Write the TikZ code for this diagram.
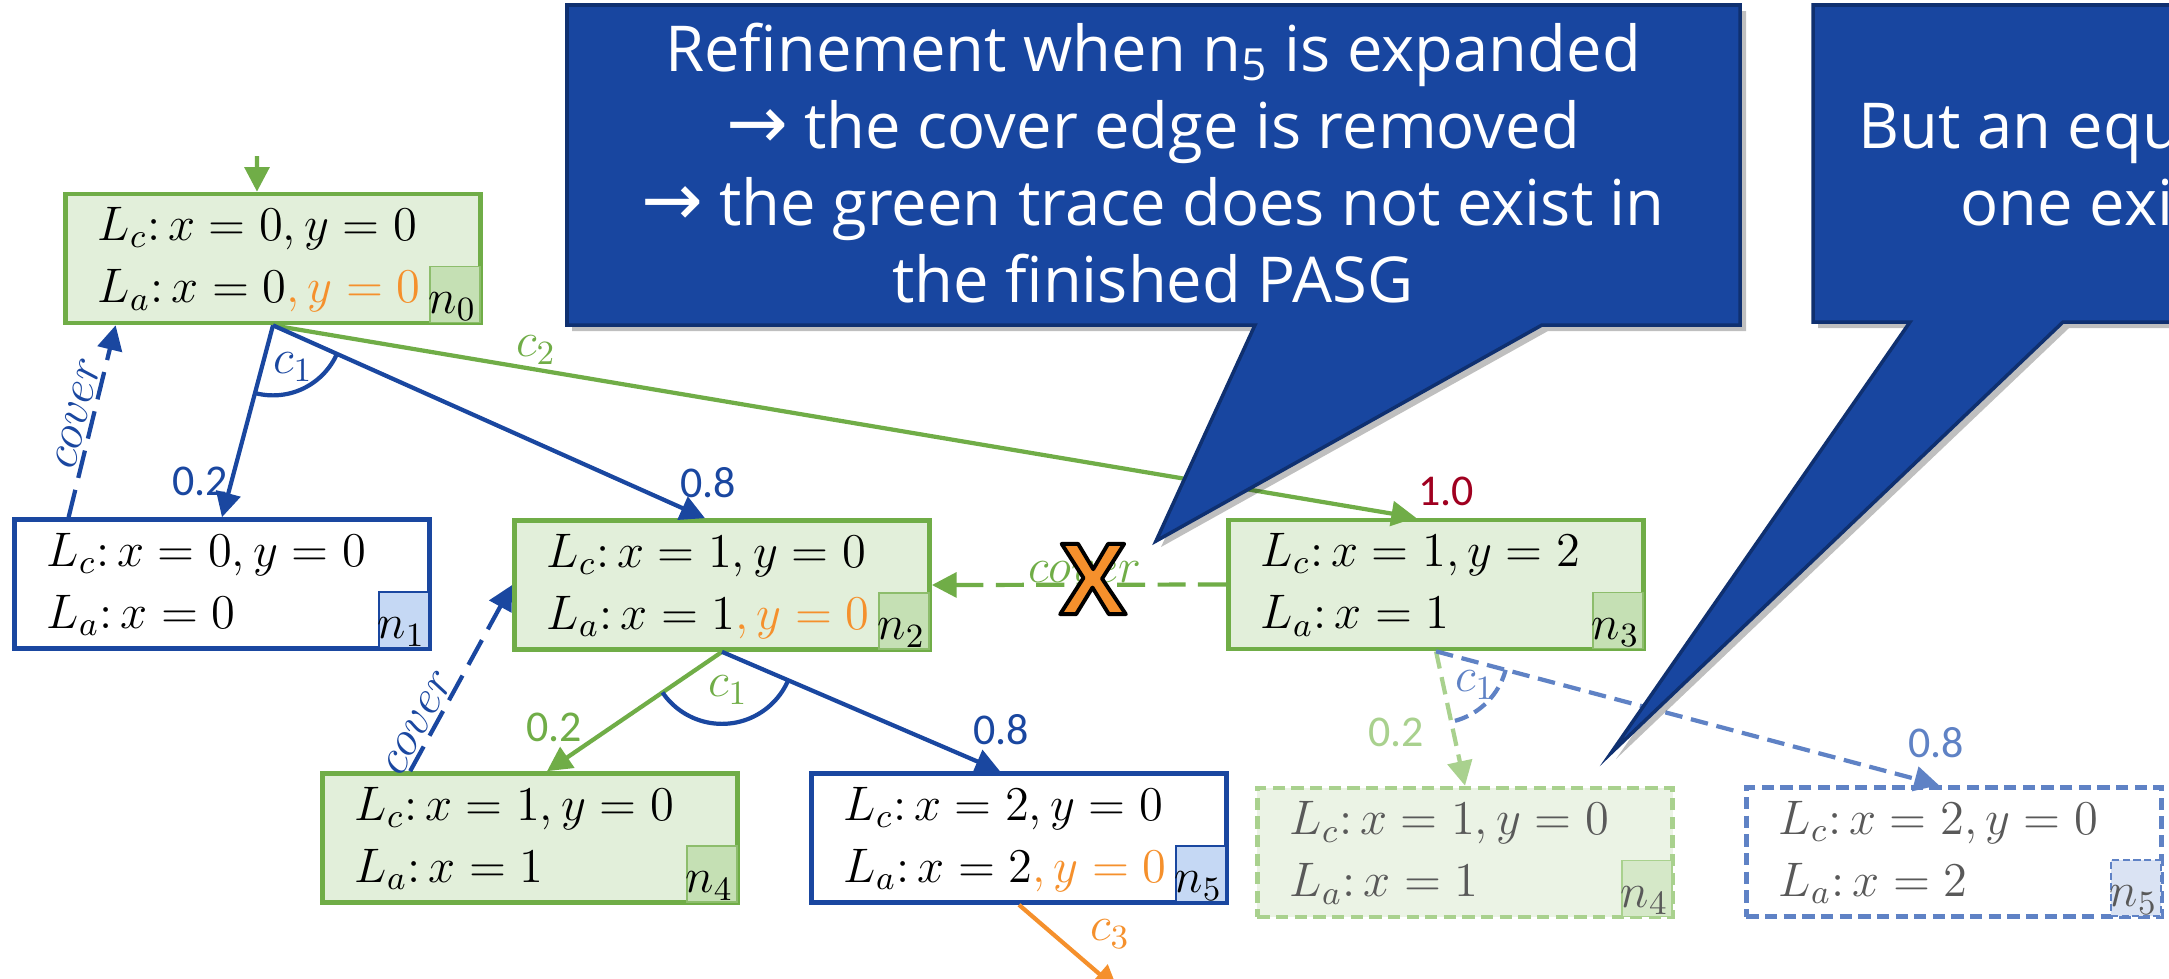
\RequirePackage{fix-cm}
\documentclass[tikz,border=0pt]{standalone}
\usepackage{fontspec}
\newfontfamily\osans{Open Sans}
\newfontfamily\carl{Carlito}
\newfontfamily\dvs{DejaVu Sans}
\usetikzlibrary{arrows.meta}
\definecolor{bl}{HTML}{1A47A0}
\definecolor{grn}{HTML}{70AD47}
\definecolor{grnfill}{HTML}{E2EFDA}
\definecolor{grnlab}{HTML}{C5E0B4}
\definecolor{bllab}{HTML}{C5D8F4}
\definecolor{orng}{HTML}{F5902C}
\definecolor{dred}{HTML}{A00020}
\definecolor{ggrn}{HTML}{A9D18E}
\definecolor{ggrnfill}{HTML}{EBF3E5}
\definecolor{ggrnlab}{HTML}{D5E8C8}
\definecolor{gbl}{HTML}{5F82C5}
\definecolor{gbllab}{HTML}{DAE3F3}
\definecolor{gtxt}{HTML}{595959}
\definecolor{cfill}{HTML}{1846A0}
\definecolor{cline}{HTML}{0F3070}
\newcommand\mymath{\fontsize{13.8}{16}\selectfont}
\newcommand\numfont{\carl\fontsize{12.5}{14}\selectfont}
\newcommand\callfont{\osans\fontsize{18}{22}\selectfont}
\newcommand\callarrow{{\dvs\fontsize{21}{22}\selectfont →}}
\newcommand\boxtexts[4]{%
  \node[txt,#4] (#1a) at ([xshift=0.34cm,yshift=-0.49cm]#1.north west) {#2};
  \node[txt,#4] (#1b) at ([xshift=0.34cm,yshift=-1.11cm]#1.north west) {#3};
}
\tikzset{
  tip/.style={-{Triangle[length=7pt,width=7pt]}},
  edge/.style={line width=1.2pt, tip},
  coveredge/.style={line width=1.2pt, tip, dash pattern=on 8pt off 3.5pt},
  ghostedge/.style={line width=1.2pt, tip, dash pattern=on 5pt off 2.5pt},
  box/.style={draw, line width=1.3pt, minimum width=4.15cm, minimum height=1.29cm, inner sep=0pt},
  ghostbox/.style={box, dash pattern=on 3.5pt off 1.8pt},
  labbox/.style={minimum width=0.5cm, minimum height=0.56cm, inner sep=0pt, anchor=south east, line width=0.5pt},
  txt/.style={anchor=base west, inner sep=0pt, font=\mymath},
  ntxt/.style={anchor=base east, inner sep=0pt, font=\mymath},
  lab/.style={inner sep=0pt, font=\mymath},
  num/.style={inner sep=0pt, font=\numfont},
  ctext/.style={anchor=base, inner sep=0pt, text=white, font=\callfont},
}
\begin{document}
\begin{tikzpicture}[x=0.01cm,y=0.01cm]
\useasboundingbox (0,0) rectangle (2169,-978);
\clip (0,0) rectangle (2169,-978);
\fill[white] (0,0) rectangle (2169,-978);

% boxes
\node[box, draw=grn, fill=grnfill] (n0) at (273,-258.5) {};
\node[box, draw=bl, fill=white] (n1) at (222,-584) {};
\node[box, draw=grn, fill=grnfill] (n2) at (722,-585) {};
\node[box, draw=grn, fill=grnfill] (n3) at (1436,-584.5) {};
\node[box, draw=grn, fill=grnfill] (n4) at (530,-838) {};
\node[box, draw=bl, fill=white] (n5) at (1019,-838) {};
\node[ghostbox, draw=ggrn, fill=ggrnfill] (g4) at (1465,-852.5) {};
\node[ghostbox, draw=gbl, fill=white] (g5) at (1954,-852) {};

% index labels
\node[labbox, fill=grnlab, draw=grn!80] (n0l) at ([xshift=-0.02cm,yshift=0.02cm]n0.south east) {};
\node[labbox, fill=bllab, draw=bl] (n1l) at ([xshift=-0.02cm,yshift=0.02cm]n1.south east) {};
\node[labbox, fill=grnlab, draw=grn!80] (n2l) at ([xshift=-0.02cm,yshift=0.02cm]n2.south east) {};
\node[labbox, fill=grnlab, draw=grn!80] (n3l) at ([xshift=-0.02cm,yshift=0.02cm]n3.south east) {};
\node[labbox, fill=grnlab, draw=grn!80] (n4l) at ([xshift=-0.02cm,yshift=0.02cm]n4.south east) {};
\node[labbox, fill=bllab, draw=bl] (n5l) at ([xshift=-0.02cm,yshift=0.02cm]n5.south east) {};
\node[labbox, fill=ggrnlab, draw=ggrn] (g4l) at ([xshift=-0.02cm,yshift=0.02cm]g4.south east) {};
\node[labbox, fill=gbllab, draw=gbl, dash pattern=on 2pt off 1pt] (g5l) at ([xshift=-0.02cm,yshift=0.02cm]g5.south east) {};
\node[ntxt] (n0n) at ([xshift=-0.04cm,yshift=0.1cm]n0l.south east) {$n_0$};
\node[ntxt] (n1n) at ([xshift=-0.04cm,yshift=0.1cm]n1l.south east) {$n_1$};
\node[ntxt] (n2n) at ([xshift=-0.04cm,yshift=0.1cm]n2l.south east) {$n_2$};
\node[ntxt] (n3n) at ([xshift=-0.04cm,yshift=0.1cm]n3l.south east) {$n_3$};
\node[ntxt] (n4n) at ([xshift=-0.04cm,yshift=0.1cm]n4l.south east) {$n_4$};
\node[ntxt] (n5n) at ([xshift=-0.04cm,yshift=0.1cm]n5l.south east) {$n_5$};
\node[ntxt, text=gtxt] (g4n) at ([xshift=-0.04cm,yshift=0.1cm]g4l.south east) {$n_4$};
\node[ntxt, text=gtxt] (g5n) at ([xshift=-0.04cm,yshift=0.1cm]g5l.south east) {$n_5$};

% box texts
\boxtexts{n0}{$L_c\colon x=0,y=0$}{$L_a\colon x=0\textcolor{orng}{,y=0}$}{}
\boxtexts{n1}{$L_c\colon x=0,y=0$}{$L_a\colon x=0$}{}
\boxtexts{n2}{$L_c\colon x=1,y=0$}{$L_a\colon x=1\textcolor{orng}{,y=0}$}{}
\boxtexts{n3}{$L_c\colon x=1,y=2$}{$L_a\colon x=1$}{}
\boxtexts{n4}{$L_c\colon x=1,y=0$}{$L_a\colon x=1$}{}
\boxtexts{n5}{$L_c\colon x=2,y=0$}{$L_a\colon x=2\textcolor{orng}{,y=0}$}{}
\boxtexts{g4}{$L_c\colon x=1,y=0$}{$L_a\colon x=1$}{text=gtxt}
\boxtexts{g5}{$L_c\colon x=2,y=0$}{$L_a\colon x=2$}{text=gtxt}

% edges
\coordinate (init) at (257,-156);
\draw[edge,grn] (init) -- ([xshift=-0.16cm]n0.north);
\draw[edge,grn] (n0.south) -- ([xshift=-0.2cm]n3.north);
\draw[edge,bl] (n0.south) -- (n1.north);
\draw[edge,bl] (n0.south) -- ([xshift=-0.17cm]n2.north);
\draw[coveredge,bl] ([xshift=0.565cm]n1.north west) -- ([xshift=0.525cm]n0.south west)
  node[pos=0.52, sloped, above=0.03cm, lab, text=bl] (cov1) {$cover$};
\draw[edge,grn] (n2.south) -- ([xshift=0.17cm]n4.north);
\draw[edge,bl] (n2.south) -- ([xshift=-0.19cm]n5.north);
\draw[coveredge,bl] ([xshift=0.9cm]n4.north west) -- (n2.west)
  node[pos=0.22, sloped, above=0.03cm, lab, text=bl] (cov2) {$cover$};
\draw[coveredge,grn] (n3.west) -- (n2.east)
  node[pos=0.48, anchor=base, yshift=0.02cm, lab, text=grn] (cov3) {$cover$};
\coordinate (c3end) at (1118,-990);
\draw[edge,orng] (n5.south) -- (c3end);
\draw[ghostedge,ggrn] (n3.south) -- (g4.north);
\draw[ghostedge,gbl] (n3.south) -- ([xshift=-0.15cm]g5.north);

% and-arcs
\begin{scope}
\clip (n0.south) -- (n1.north) -- ([xshift=-0.17cm]n2.north) -- cycle;
\draw[bl,line width=1.2pt] (n0.south) circle[radius=0.7cm];
\end{scope}
\begin{scope}
\clip (n2.south) -- ([xshift=0.17cm]n4.north) -- ([xshift=-0.19cm]n5.north) -- cycle;
\draw[bl,line width=1.2pt] (n2.south) circle[radius=0.72cm];
\end{scope}
\begin{scope}
\clip (n3.south) -- (g4.north) -- ([xshift=-0.15cm]g5.north) -- cycle;
\draw[gbl,line width=1.2pt,dash pattern=on 4pt off 2pt] (n3.south) circle[radius=0.72cm];
\end{scope}

% edge labels
\node[lab,text=bl] (c1a) at (293,-367) {$c_1$};
\node[num,text=bl] (p02a) at (200,-481) {0.2};
\node[num,text=bl] (p08a) at (708,-483) {0.8};
\node[lab,text=grn] (c2) at (536,-350) {$c_2$};
\node[num,text=dred] (p10) at (1446,-491) {1.0};
\node[lab,text=grn] (c1b) at (728,-690) {$c_1$};
\node[num,text=grn] (p02b) at (554,-727) {0.2};
\node[num,text=bl] (p08b) at (1001,-730) {0.8};
\node[lab,text=orng] (c3) at (1110,-934) {$c_3$};
\node[lab,text=gbl] (c1c) at (1475,-685) {$c_1$};
\node[num,text=ggrn] (p02c) at (1396,-732) {0.2};
\node[num,text=gbl] (p08c) at (1936,-743) {0.8};

% X mark
\node[inner sep=0pt, text=orng, font=\osans\bfseries\fontsize{28}{28}\selectfont] (xmark) at (1093,-579)
  {\special{pdf:literal direct 0 0 0 RG 2 Tr 1.1 w 1 j}X\special{pdf:literal direct 0 Tr}};

% callouts
\fill[black,opacity=0.25] (572,-11) -- (1746,-11) -- (1746,-331) -- (1548,-331) -- (1161,-547) -- (1261,-331) -- (572,-331) -- cycle;
\filldraw[fill=cfill, draw=cline, line width=1pt] (567,-5) -- (1740,-5) -- (1740,-325) -- (1542,-325) -- (1156,-541) -- (1255,-325) -- (567,-325) -- cycle;
\fill[black,opacity=0.25] (1818,-11) -- (2260,-11) -- (2260,-328) -- (2069,-328) -- (1616,-759) -- (1916,-328) -- (1818,-328) -- cycle;
\filldraw[fill=cfill, draw=cline, line width=1pt] (1813,-5) -- (2250,-5) -- (2250,-322) -- (2063,-322) -- (1611,-753) -- (1910,-322) -- (1813,-322) -- cycle;

\node[ctext] (t1) at (1153,-71) {Refinement when n\textsubscript{5} is expanded};
\node[ctext] (t2) at (1153,-148) {\callarrow{} the cover edge is removed};
\node[ctext] (t3) at (1153,-225) {\callarrow{} the green trace does not exist in};
\node[ctext] (t4) at (1153,-302) {the finished PASG};
\node[ctext, anchor=base west] (u1) at (1858,-148) {But an equ};
\node[ctext, anchor=base west] (u2) at (1960,-225) {one exi};
\end{tikzpicture}
\end{document}
